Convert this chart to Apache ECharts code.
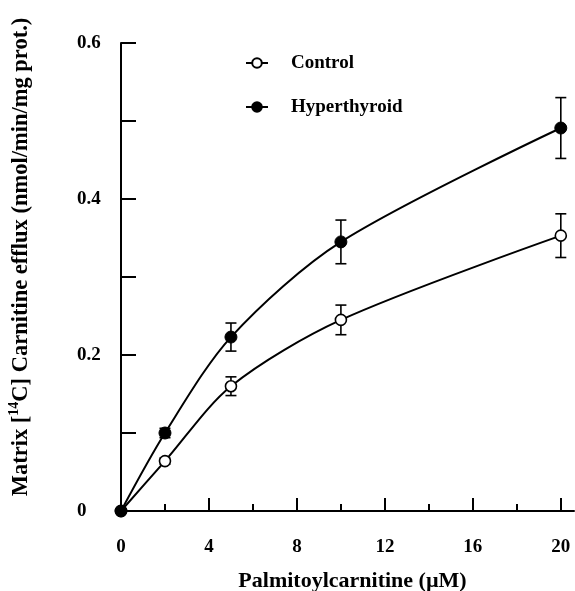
<!DOCTYPE html>
<html>
<head>
<meta charset="utf-8">
<script src="https://cdn.jsdelivr.net/npm/echarts@6/dist/echarts.min.js"></script>
<style>
  html, body { margin: 0; padding: 0; background: #fff; }
  #chart { width: 575px; height: 591px; }
</style>
</head>
<body>
<div id="chart"></div>
<script>
// palmitoylcarnitine concentration (uM)
const conc = [0, 2, 5, 10, 20];
const controlMean = [0, 0.064, 0.160, 0.245, 0.353];
const controlErr = [0, 0.004, 0.012, 0.019, 0.028];
const hyperMean = [0, 0.100, 0.223, 0.345, 0.491];
const hyperErr = [0, 0.006, 0.018, 0.028, 0.039];
const xMajorTicks = [0, 4, 8, 12, 16, 20];
const xMinorTicks = [2, 6, 10, 14, 18];
const yLabelTicks = [0, 0.2, 0.4, 0.6];

const font = "Liberation Serif";

function points(xs, ys) {
  return xs.map((x, i) => [x, ys[i]]);
}
function errData(xs, ys, es) {
  return xs.map((x, i) => [x, ys[i] - es[i], ys[i] + es[i]]);
}

function renderErr(params, api) {
  const top = api.coord([api.value(0), api.value(2)]);
  const bot = api.coord([api.value(0), api.value(1)]);
  const w = 5.5;
  const style = { stroke: "#000", lineWidth: 1.6, fill: null };
  return {
    type: "group",
    children: [
      { type: "line", shape: { x1: top[0], y1: top[1], x2: bot[0], y2: bot[1] }, style: style },
      { type: "line", shape: { x1: top[0] - w, y1: top[1], x2: top[0] + w, y2: top[1] }, style: style },
      { type: "line", shape: { x1: bot[0] - w, y1: bot[1], x2: bot[0] + w, y2: bot[1] }, style: style },
    ],
  };
}

const myChart = echarts.init(document.getElementById("chart"));

const option = {
  animation: false,
  backgroundColor: "#fff",
  textStyle: { fontFamily: font, fontWeight: "bold", color: "#000" },
  grid: { left: 121, right: 1, top: 43, bottom: 80, containLabel: false, outerBoundsMode: "none" },
  legend: {
    orient: "vertical",
    left: 245,
    top: 53,
    padding: 0,
    itemWidth: 22,
    itemHeight: 12,
    itemGap: 24,
    data: ["Control", "Hyperthyroid"],
    textStyle: { fontFamily: font, fontWeight: "bold", fontSize: 19, color: "#000", lineHeight: 20, padding: [0, 0, 0, 18] },
  },
  xAxis: [
    {
      type: "value",
      min: 0,
      max: 20.6,
      splitLine: { show: false },
      axisLine: { onZero: false, lineStyle: { color: "#000", width: 2 } },
      axisTick: { inside: true, length: 13, customValues: xMajorTicks, lineStyle: { color: "#000", width: 2 } },
      axisLabel: { customValues: xMajorTicks, margin: 27, fontFamily: font, fontWeight: "bold", fontSize: 19, color: "#000" },
      name: "Palmitoylcarnitine (\u00b5M)",
      nameLocation: "middle",
      nameGap: 59,
      nameTextStyle: { fontFamily: font, fontWeight: "bold", fontSize: 22, color: "#000", padding: [0, 0, 0, 10] },
    },
    {
      type: "value",
      position: "bottom",
      min: 0,
      max: 20.6,
      splitLine: { show: false },
      axisLine: { show: false },
      axisTick: { inside: true, length: 7, customValues: xMinorTicks, lineStyle: { color: "#000", width: 2 } },
      axisLabel: { show: false },
    },
  ],
  yAxis: {
    type: "value",
    min: 0,
    max: 0.6,
    interval: 0.1,
    splitLine: { show: false },
    axisLine: { lineStyle: { color: "#000", width: 2 } },
    axisTick: { inside: true, length: 15, lineStyle: { color: "#000", width: 2 } },
    axisLabel: {
      customValues: yLabelTicks,
      margin: 44,
      align: "left",
      fontFamily: font,
      fontWeight: "bold",
      fontSize: 19,
      color: "#000",
      formatter: (v) => (v === 0 ? "0" : v.toFixed(1)),
    },
    name: "{n|Matrix [}{s|14}{n|C] Carnitine efflux (nmol/min/mg prot.)}",
    nameLocation: "middle",
    nameGap: 88,
    nameRotate: 90,
    nameTextStyle: {
      padding: [0, 0, 0, 40],
      rich: {
        n: { fontFamily: font, fontWeight: "bold", fontSize: 22.5, color: "#000", lineHeight: 26, verticalAlign: "bottom" },
        s: { fontFamily: font, fontWeight: "bold", fontSize: 14, color: "#000", lineHeight: 26, verticalAlign: "top" },
      },
    },
  },
  series: [
    {
      name: "Control err",
      type: "custom",
      z: 2,
      renderItem: renderErr,
      data: errData(conc, controlMean, controlErr),
      encode: { x: 0, y: [1, 2] },
    },
    {
      name: "Hyperthyroid err",
      type: "custom",
      z: 2,
      renderItem: renderErr,
      data: errData(conc, hyperMean, hyperErr),
      encode: { x: 0, y: [1, 2] },
    },
    {
      name: "Control",
      type: "line",
      z: 3,
      smooth: 0.3,
      symbol: "circle",
      symbolSize: 11,
      data: points(conc, controlMean),
      lineStyle: { color: "#000", width: 2 },
      itemStyle: { color: "#fff", borderColor: "#000", borderWidth: 1.6 },
    },
    {
      name: "Hyperthyroid",
      type: "line",
      z: 4,
      smooth: 0.3,
      symbol: "circle",
      symbolSize: 12,
      data: points(conc, hyperMean),
      lineStyle: { color: "#000", width: 2 },
      itemStyle: { color: "#000", borderColor: "#000", borderWidth: 1 },
    },
  ],
};

myChart.setOption(option);

window.addEventListener("resize", () => {
  myChart.resize();
});
</script>
</body>
</html>
